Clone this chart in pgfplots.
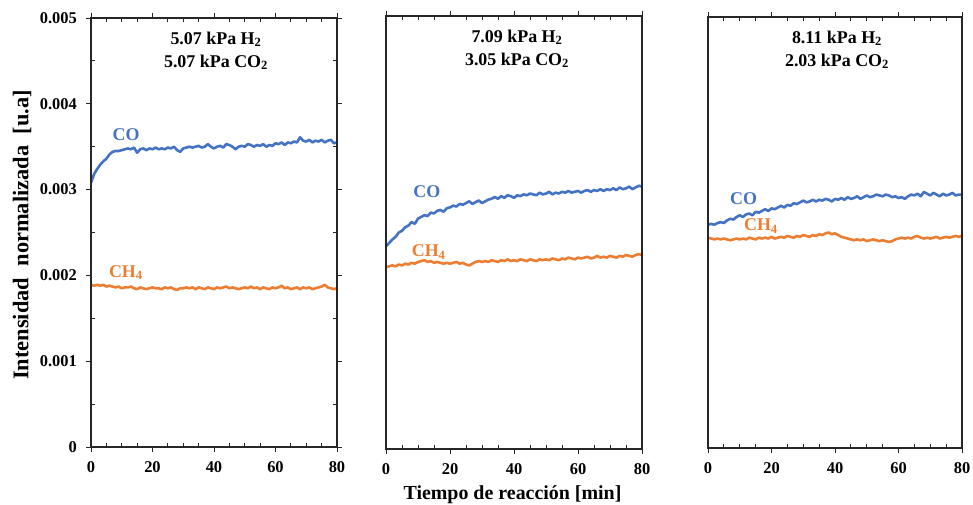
\documentclass[border=0pt]{standalone}
\usepackage{fontspec}
\setmainfont{Liberation Serif}
\usepackage{pgfplots}
\usepackage{pgfplotstable}
\pgfplotsset{compat=1.18}
\definecolor{coblue}{HTML}{4472C4}
\definecolor{chorange}{HTML}{ED7D31}

\pgfplotstableread{
t co ch4
0 3.08e-3 1.89e-3
1 3.18e-3 1.88e-3
2 3.24e-3 1.89e-3
3 3.29e-3 1.88e-3
4 3.33e-3 1.89e-3
5 3.36e-3 1.87e-3
6 3.41e-3 1.88e-3
7 3.44e-3 1.87e-3
8 3.45e-3 1.86e-3
9 3.45e-3 1.87e-3
10 3.46e-3 1.85e-3
11 3.47e-3 1.86e-3
12 3.48e-3 1.86e-3
13 3.47e-3 1.87e-3
14 3.49e-3 1.85e-3
15 3.43e-3 1.84e-3
16 3.47e-3 1.86e-3
17 3.48e-3 1.85e-3
18 3.46e-3 1.84e-3
19 3.48e-3 1.85e-3
20 3.47e-3 1.86e-3
21 3.49e-3 1.85e-3
22 3.47e-3 1.85e-3
23 3.48e-3 1.84e-3
24 3.47e-3 1.86e-3
25 3.49e-3 1.85e-3
26 3.48e-3 1.86e-3
27 3.50e-3 1.84e-3
28 3.46e-3 1.83e-3
29 3.44e-3 1.85e-3
30 3.48e-3 1.85e-3
31 3.49e-3 1.86e-3
32 3.50e-3 1.85e-3
33 3.49e-3 1.86e-3
34 3.50e-3 1.84e-3
35 3.51e-3 1.86e-3
36 3.49e-3 1.85e-3
37 3.50e-3 1.84e-3
38 3.53e-3 1.86e-3
39 3.50e-3 1.85e-3
40 3.48e-3 1.84e-3
41 3.50e-3 1.86e-3
42 3.51e-3 1.85e-3
43 3.49e-3 1.86e-3
44 3.53e-3 1.87e-3
45 3.52e-3 1.85e-3
46 3.50e-3 1.86e-3
47 3.47e-3 1.85e-3
48 3.50e-3 1.84e-3
49 3.51e-3 1.85e-3
50 3.50e-3 1.86e-3
51 3.53e-3 1.85e-3
52 3.52e-3 1.87e-3
53 3.50e-3 1.85e-3
54 3.52e-3 1.86e-3
55 3.51e-3 1.84e-3
56 3.53e-3 1.86e-3
57 3.50e-3 1.85e-3
58 3.52e-3 1.84e-3
59 3.51e-3 1.86e-3
60 3.54e-3 1.85e-3
61 3.53e-3 1.86e-3
62 3.55e-3 1.88e-3
63 3.52e-3 1.85e-3
64 3.55e-3 1.86e-3
65 3.54e-3 1.84e-3
66 3.56e-3 1.85e-3
67 3.55e-3 1.86e-3
68 3.61e-3 1.84e-3
69 3.57e-3 1.86e-3
70 3.56e-3 1.85e-3
71 3.58e-3 1.86e-3
72 3.55e-3 1.84e-3
73 3.57e-3 1.85e-3
74 3.56e-3 1.86e-3
75 3.58e-3 1.87e-3
76 3.55e-3 1.89e-3
77 3.57e-3 1.86e-3
78 3.58e-3 1.85e-3
79 3.54e-3 1.84e-3
80 3.55e-3 1.85e-3
}\panelA

\pgfplotstableread{
t co ch4
0 2.34e-3 2.10e-3
1 2.38e-3 2.11e-3
2 2.42e-3 2.12e-3
3 2.45e-3 2.11e-3
4 2.50e-3 2.13e-3
5 2.52e-3 2.12e-3
6 2.56e-3 2.14e-3
7 2.58e-3 2.13e-3
8 2.62e-3 2.15e-3
9 2.60e-3 2.14e-3
10 2.66e-3 2.16e-3
11 2.68e-3 2.17e-3
12 2.70e-3 2.18e-3
13 2.69e-3 2.16e-3
14 2.73e-3 2.17e-3
15 2.72e-3 2.15e-3
16 2.75e-3 2.16e-3
17 2.76e-3 2.15e-3
18 2.74e-3 2.14e-3
19 2.78e-3 2.15e-3
20 2.79e-3 2.14e-3
21 2.81e-3 2.15e-3
22 2.80e-3 2.16e-3
23 2.83e-3 2.14e-3
24 2.82e-3 2.15e-3
25 2.84e-3 2.13e-3
26 2.86e-3 2.12e-3
27 2.83e-3 2.14e-3
28 2.85e-3 2.16e-3
29 2.87e-3 2.17e-3
30 2.84e-3 2.16e-3
31 2.86e-3 2.17e-3
32 2.88e-3 2.16e-3
33 2.89e-3 2.18e-3
34 2.91e-3 2.17e-3
35 2.89e-3 2.16e-3
36 2.92e-3 2.18e-3
37 2.90e-3 2.17e-3
38 2.93e-3 2.19e-3
39 2.92e-3 2.17e-3
40 2.90e-3 2.18e-3
41 2.93e-3 2.17e-3
42 2.92e-3 2.19e-3
43 2.94e-3 2.18e-3
44 2.93e-3 2.17e-3
45 2.95e-3 2.19e-3
46 2.94e-3 2.18e-3
47 2.93e-3 2.17e-3
48 2.96e-3 2.19e-3
49 2.94e-3 2.18e-3
50 2.95e-3 2.19e-3
51 2.97e-3 2.18e-3
52 2.94e-3 2.20e-3
53 2.96e-3 2.19e-3
54 2.95e-3 2.18e-3
55 2.97e-3 2.20e-3
56 2.96e-3 2.19e-3
57 2.98e-3 2.21e-3
58 2.96e-3 2.20e-3
59 2.97e-3 2.19e-3
60 2.98e-3 2.21e-3
61 2.96e-3 2.20e-3
62 2.98e-3 2.21e-3
63 2.99e-3 2.22e-3
64 2.97e-3 2.20e-3
65 2.99e-3 2.21e-3
66 2.98e-3 2.23e-3
67 3.00e-3 2.21e-3
68 2.98e-3 2.22e-3
69 3.00e-3 2.21e-3
70 2.99e-3 2.23e-3
71 3.01e-3 2.22e-3
72 2.99e-3 2.21e-3
73 3.02e-3 2.23e-3
74 3.00e-3 2.22e-3
75 3.01e-3 2.24e-3
76 3.03e-3 2.23e-3
77 3.00e-3 2.22e-3
78 3.02e-3 2.24e-3
79 3.04e-3 2.25e-3
80 3.03e-3 2.24e-3
}\panelB

\pgfplotstableread{
t co ch4
0 2.59e-3 2.44e-3
1 2.60e-3 2.43e-3
2 2.59e-3 2.42e-3
3 2.61e-3 2.43e-3
4 2.62e-3 2.42e-3
5 2.61e-3 2.43e-3
6 2.64e-3 2.42e-3
7 2.66e-3 2.41e-3
8 2.65e-3 2.42e-3
9 2.68e-3 2.43e-3
10 2.70e-3 2.42e-3
11 2.68e-3 2.43e-3
12 2.71e-3 2.42e-3
13 2.72e-3 2.44e-3
14 2.70e-3 2.43e-3
15 2.74e-3 2.42e-3
16 2.73e-3 2.44e-3
17 2.75e-3 2.43e-3
18 2.77e-3 2.44e-3
19 2.75e-3 2.43e-3
20 2.78e-3 2.45e-3
21 2.77e-3 2.43e-3
22 2.79e-3 2.44e-3
23 2.81e-3 2.45e-3
24 2.79e-3 2.44e-3
25 2.82e-3 2.46e-3
26 2.81e-3 2.45e-3
27 2.84e-3 2.44e-3
28 2.83e-3 2.46e-3
29 2.85e-3 2.45e-3
30 2.87e-3 2.47e-3
31 2.85e-3 2.46e-3
32 2.86e-3 2.45e-3
33 2.88e-3 2.47e-3
34 2.86e-3 2.46e-3
35 2.88e-3 2.48e-3
36 2.87e-3 2.47e-3
37 2.89e-3 2.49e-3
38 2.88e-3 2.50e-3
39 2.86e-3 2.48e-3
40 2.89e-3 2.49e-3
41 2.88e-3 2.47e-3
42 2.90e-3 2.45e-3
43 2.88e-3 2.44e-3
44 2.91e-3 2.43e-3
45 2.89e-3 2.42e-3
46 2.90e-3 2.41e-3
47 2.92e-3 2.42e-3
48 2.89e-3 2.41e-3
49 2.91e-3 2.42e-3
50 2.93e-3 2.40e-3
51 2.91e-3 2.41e-3
52 2.92e-3 2.42e-3
53 2.94e-3 2.41e-3
54 2.93e-3 2.40e-3
55 2.92e-3 2.41e-3
56 2.94e-3 2.40e-3
57 2.93e-3 2.39e-3
58 2.91e-3 2.40e-3
59 2.92e-3 2.42e-3
60 2.90e-3 2.43e-3
61 2.91e-3 2.44e-3
62 2.89e-3 2.43e-3
63 2.92e-3 2.44e-3
64 2.94e-3 2.43e-3
65 2.93e-3 2.45e-3
66 2.95e-3 2.46e-3
67 2.92e-3 2.44e-3
68 2.97e-3 2.43e-3
69 2.95e-3 2.44e-3
70 2.93e-3 2.43e-3
71 2.96e-3 2.44e-3
72 2.94e-3 2.45e-3
73 2.92e-3 2.43e-3
74 2.95e-3 2.44e-3
75 2.93e-3 2.45e-3
76 2.94e-3 2.44e-3
77 2.96e-3 2.45e-3
78 2.93e-3 2.46e-3
79 2.94e-3 2.45e-3
80 2.94e-3 2.46e-3
}\panelC

\pgfplotsset{
  panel/.style={
    scale only axis,
    xmin=0, xmax=80, ymin=0, ymax=0.005,
    xtick={0,20,40,60,80},
    minor x tick num=3,
    scaled y ticks=false,
    scaled x ticks=false,
    axis line style={line width=1.2bp, black!85},
    every tick/.style={black!85, line width=0.9bp},
    tick align=outside,
    major tick length=5bp,
    minor tick length=-4bp,
    /pgf/number format/assume math mode=true,
    tick label style={font=\bfseries\fontsize{16.5}{16.5}\selectfont, inner sep=0pt},
    xticklabel style={yshift=-9bp},
    yticklabel style={xshift=-9bp},
    axis on top,
    every axis plot/.append style={line width=2.6bp, line join=round},
  },
}
\tikzset{
  lbl/.style={font=\bfseries\fontsize{18}{18}\selectfont, inner sep=0pt},
  ttl/.style={font=\bfseries\fontsize{18}{23}\selectfont, align=center, inner sep=0pt, anchor=north},
}

\begin{document}
\begin{tikzpicture}
\path[use as bounding box] (0,0) rectangle (973bp,505bp);

% Panel 1
\begin{axis}[panel, at={(91bp,58bp)}, anchor=south west, width=246bp, height=429bp,
  ytick={0,0.001,0.002,0.003,0.004,0.005},
  yticklabels={0,0.001,0.002,0.003,0.004,0.005},
  minor y tick num=1]
\addplot[coblue] table[x=t, y=co] {\panelA};
\addplot[chorange] table[x=t, y=ch4] {\panelA};
\node[lbl, text=coblue, anchor=base west] at (axis cs:7.0,0.00357) {CO};
\node[lbl, text=chorange, anchor=base west] at (axis cs:5.8,0.00198) {CH\textsubscript{4}};
\node[ttl] at ([xshift=2bp, yshift=-13.5bp]axis description cs:0.5,1) {5.07 kPa H\textsubscript{2}\\5.07 kPa CO\textsubscript{2}};
\end{axis}

% Panel 2
\begin{axis}[panel, at={(386bp,56bp)}, anchor=south west, width=256bp, height=433bp,
  ytick=\empty]
\addplot[coblue] table[x=t, y=co] {\panelB};
\addplot[chorange] table[x=t, y=ch4] {\panelB};
\node[lbl, text=coblue, anchor=base west] at (axis cs:8.5,0.00290) {CO};
\node[lbl, text=chorange, anchor=base west] at (axis cs:8.0,0.00222) {CH\textsubscript{4}};
\node[ttl] at ([xshift=3bp, yshift=-13.5bp]axis description cs:0.5,1) {7.09 kPa H\textsubscript{2}\\3.05 kPa CO\textsubscript{2}};
\end{axis}

% Panel 3
\begin{axis}[panel, at={(708bp,57bp)}, anchor=south west, width=254bp, height=431bp,
  ytick=\empty]
\addplot[coblue] table[x=t, y=co] {\panelC};
\addplot[chorange] table[x=t, y=ch4] {\panelC};
\node[lbl, text=coblue, anchor=base west] at (axis cs:6.9,0.00283) {CO};
\node[lbl, text=chorange, anchor=base west] at (axis cs:11.3,0.00252) {CH\textsubscript{4}};
\node[ttl] at ([xshift=2bp, yshift=-13.5bp]axis description cs:0.5,1) {8.11 kPa H\textsubscript{2}\\2.03 kPa CO\textsubscript{2}};
\end{axis}

\node[font=\bfseries\fontsize{22.5}{22.5}\selectfont, rotate=90, inner sep=0pt] at (22bp,270bp) {Intensidad\hspace{0.5em}normalizada\hspace{0.5em}[u.a]};
\node[font=\bfseries\fontsize{20}{20}\selectfont, anchor=base, inner sep=0pt] at (512.5bp,6bp) {Tiempo de reacción [min]};
\end{tikzpicture}
\end{document}
